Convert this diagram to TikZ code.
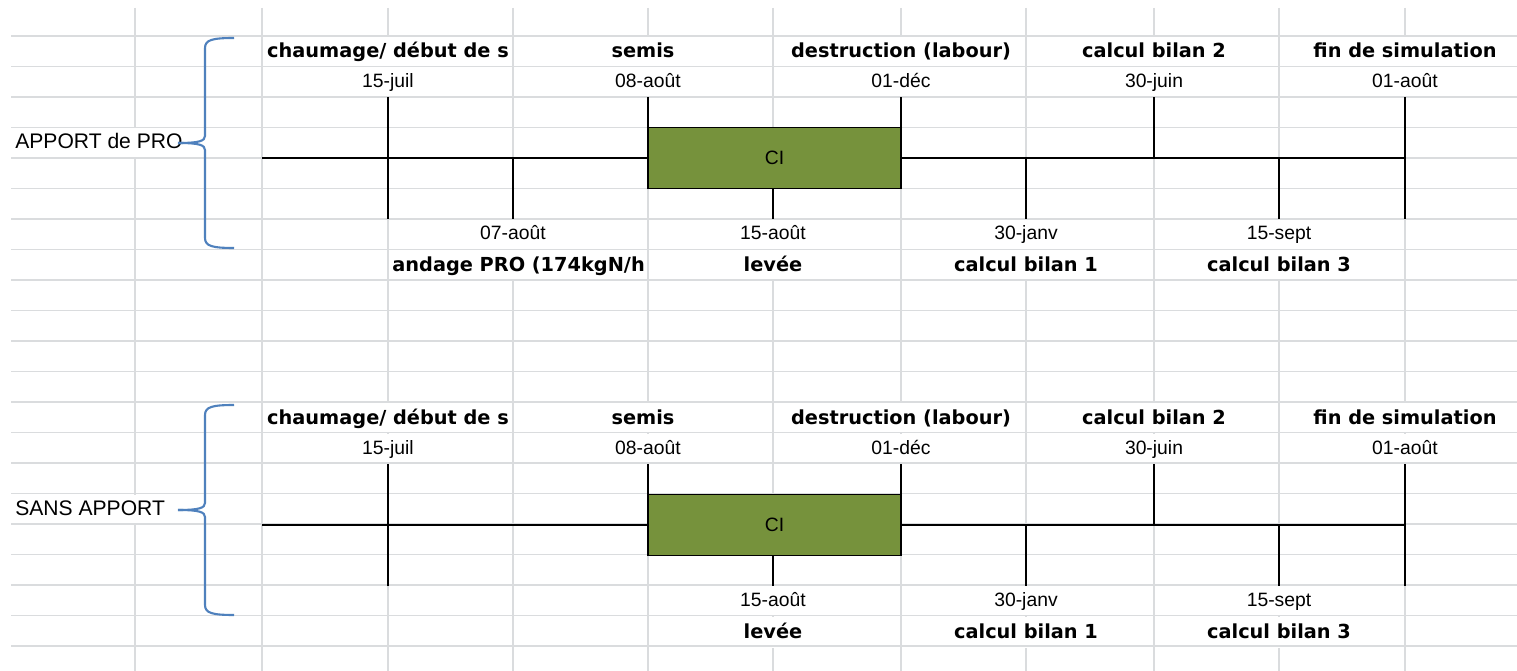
\documentclass[tikz,border=0pt]{standalone}
\usepackage{fontspec}
\setmainfont{Liberation Sans}
\newfontfamily\grasfont{DejaVu Sans}
\usetikzlibrary{positioning}
\definecolor{gris}{RGB}{218,220,222}
\definecolor{vertci}{RGB}{118,146,60}
\definecolor{bleuacc}{RGB}{79,129,189}

\tikzset{
  grille/.style={draw=gris, line width=1.1pt},
  axe/.style={line width=1.1pt},
  jour/.style={font=\fontsize{11}{13}\selectfont, fill=white, inner sep=0pt,
    text height=8.5pt, text depth=2.3pt, minimum height=0.61cm},
  etape/.style={font=\grasfont\bfseries\fontsize{11}{13}\selectfont, fill=white, inner sep=0pt,
    text height=10pt, text depth=2.6pt, minimum height=0.61cm},
  cote/.style={font=\fontsize{12}{14}\selectfont, fill=white, inner sep=0pt,
    text height=10pt, text depth=3pt, minimum height=0.61cm, anchor=west},
  boxci/.style={draw, line width=1.1pt, fill=vertci, minimum width=5.06cm, minimum height=1.22cm, font=\fontsize{11}{13}\selectfont},
  accolade/.style={draw=bleuacc, line width=1.2pt},
}

\begin{document}
\begin{tikzpicture}[x=0.02cm, y=-0.02cm]
\useasboundingbox (0,0) rectangle (1517,671);
\fill[white] (0,0) rectangle (1517,671);
% colonnes de la feuille
\foreach \x in {135,262,388,513,648,773,901,1026,1154,1279,1405}
  \draw[grille] (\x,8) -- (\x,671);

% textes : APPORT de PRO
\node[cote] (apro) at (15,142.75) {APPORT de PRO};
\node[jour] (a1) at (388,81.75) {15-juil};
\node[etape, above=0pt of a1] (a1t) {chaumage/ début de s};
\node[jour] (a2) at (513,234.25) {07-août};
\node[etape, anchor=west] (a2t) at (392,264.75) {andage PRO (174kgN/h};
\node[jour] (a3) at (648,81.75) {08-août};
\node[etape, above=0pt of a3, xshift=-0.1cm] (a3t) {semis};
\node[jour] (a4) at (773,234.25) {15-août};
\node[etape, below=0pt of a4] (a4t) {levée};
\node[jour] (a5) at (901,81.75) {01-déc};
\node[etape, above=0pt of a5] (a5t) {destruction (labour)};
\node[jour] (a6) at (1026,234.25) {30-janv};
\node[etape, below=0pt of a6] (a6t) {calcul bilan 1};
\node[jour] (a7) at (1154,81.75) {30-juin};
\node[etape, above=0pt of a7] (a7t) {calcul bilan 2};
\node[jour] (a8) at (1279,234.25) {15-sept};
\node[etape, below=0pt of a8] (a8t) {calcul bilan 3};
\node[jour] (a9) at (1405,81.75) {01-août};
\node[etape, above=0pt of a9] (a9t) {fin de simulation};

% textes : SANS APPORT
\begin{scope}[shift={(0,367)}]
\node[cote] (bsans) at (15,142.75) {SANS APPORT};
\node[jour] (b1) at (388,81.75) {15-juil};
\node[etape, above=0pt of b1] (b1t) {chaumage/ début de s};
\node[jour] (b3) at (648,81.75) {08-août};
\node[etape, above=0pt of b3, xshift=-0.1cm] (b3t) {semis};
\node[jour] (b4) at (773,234.25) {15-août};
\node[etape, below=0pt of b4] (b4t) {levée};
\node[jour] (b5) at (901,81.75) {01-déc};
\node[etape, above=0pt of b5] (b5t) {destruction (labour)};
\node[jour] (b6) at (1026,234.25) {30-janv};
\node[etape, below=0pt of b6] (b6t) {calcul bilan 1};
\node[jour] (b7) at (1154,81.75) {30-juin};
\node[etape, above=0pt of b7] (b7t) {calcul bilan 2};
\node[jour] (b8) at (1279,234.25) {15-sept};
\node[etape, below=0pt of b8] (b8t) {calcul bilan 3};
\node[jour] (b9) at (1405,81.75) {01-août};
\node[etape, above=0pt of b9] (b9t) {fin de simulation};
\end{scope}

% lignes de la feuille
\foreach \k in {0,...,20}
  \draw[grille] (11,{36+30.5*\k}) -- (1517,{36+30.5*\k});

% frise APPORT de PRO
\node[boxci] (aci) at (774.5,158) {CI};
\coordinate (adeb) at (262,158);
\coordinate (afin) at (1405,158);
\draw[axe] (adeb) -- (aci.west);
\draw[axe] (aci.east) -- (afin);
\draw[axe] (a1.south) -- ++(0,122);
\draw[axe] (a2.north) -- (a2.north |- afin);
\draw[axe] (a3.south) -- (a3.south |- aci.north);
\draw[axe] (a4.north) -- (a4.north |- aci.south);
\draw[axe] (a5.south) -- (a5.south |- aci.north);
\draw[axe] (a6.north) -- (a6.north |- afin);
\draw[axe] (a7.south) -- (a7.south |- afin);
\draw[axe] (a8.north) -- (a8.north |- afin);
\draw[axe] (a9.south) -- ++(0,122);
\draw[accolade] (234,38) .. controls (212,38) and (205,40) .. (205,48) -- (205,136)
  .. controls (205,141) and (199,143) .. (178,143);
\draw[accolade] (178,143) .. controls (199,143) and (205,145) .. (205,150) -- (205,238)
  .. controls (205,246) and (212,248) .. (234,248);

% frise SANS APPORT
\begin{scope}[shift={(0,367)}]
\node[boxci] (bci) at (774.5,158) {CI};
\coordinate (bdeb) at (262,158);
\coordinate (bfin) at (1405,158);
\draw[axe] (bdeb) -- (bci.west);
\draw[axe] (bci.east) -- (bfin);
\draw[axe] (b1.south) -- ++(0,122);
\draw[axe] (b3.south) -- (b3.south |- bci.north);
\draw[axe] (b4.north) -- (b4.north |- bci.south);
\draw[axe] (b5.south) -- (b5.south |- bci.north);
\draw[axe] (b6.north) -- (b6.north |- bfin);
\draw[axe] (b7.south) -- (b7.south |- bfin);
\draw[axe] (b8.north) -- (b8.north |- bfin);
\draw[axe] (b9.south) -- ++(0,122);
\draw[accolade] (234,38) .. controls (212,38) and (205,40) .. (205,48) -- (205,136)
  .. controls (205,141) and (199,143) .. (178,143);
\draw[accolade] (178,143) .. controls (199,143) and (205,145) .. (205,150) -- (205,238)
  .. controls (205,246) and (212,248) .. (234,248);
\end{scope}
\end{tikzpicture}
\end{document}
